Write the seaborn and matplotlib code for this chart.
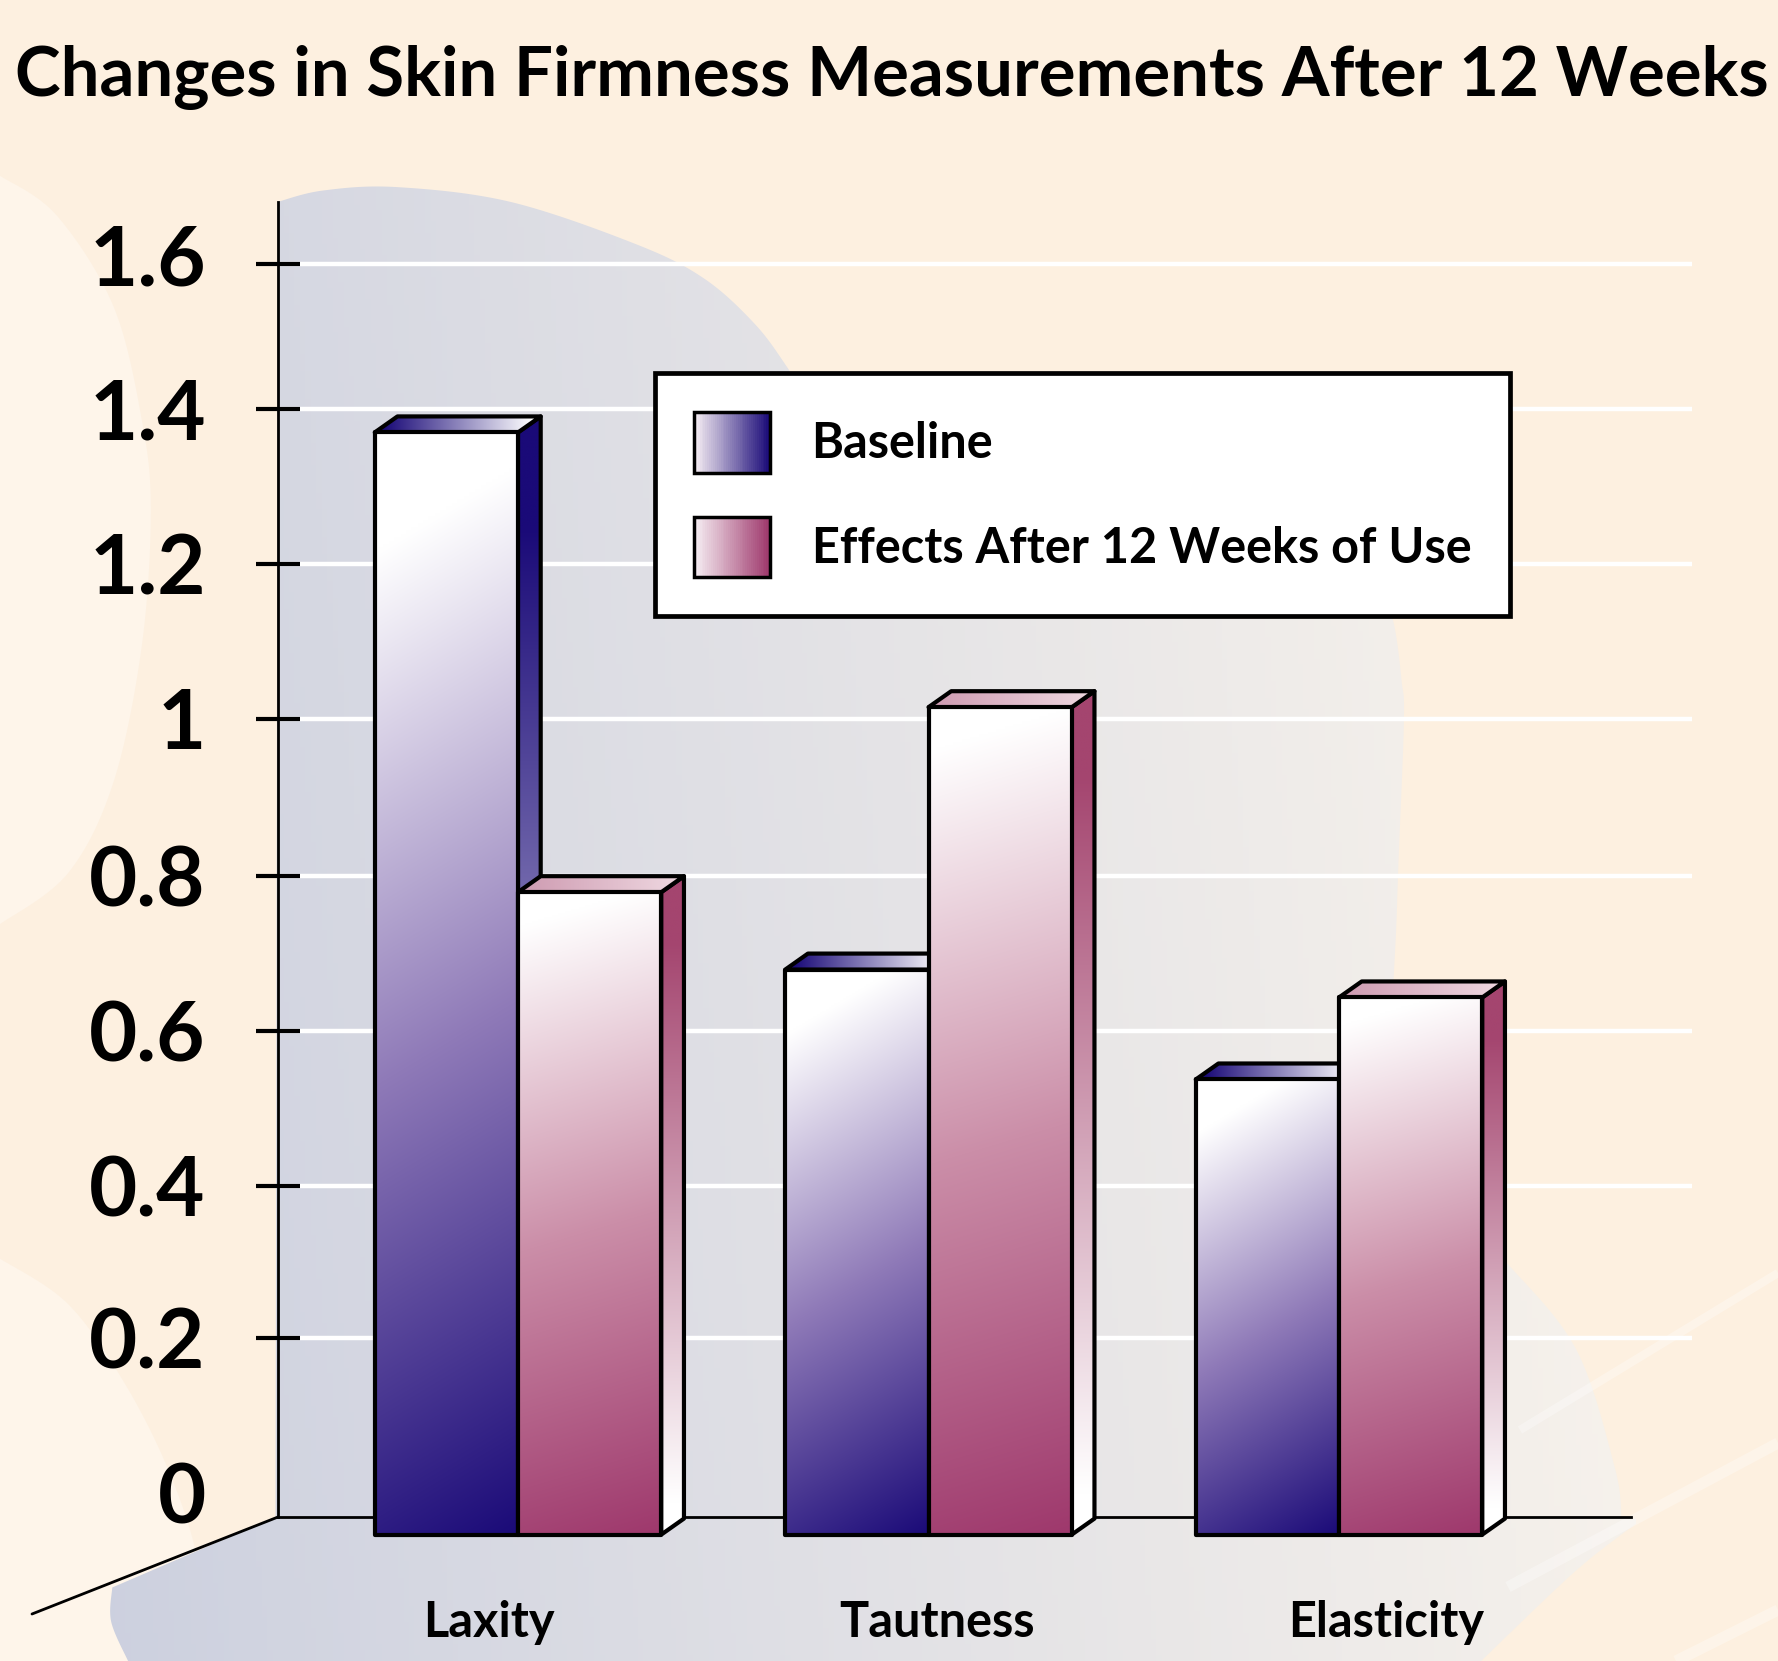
import numpy as np
import pandas as pd
import matplotlib
matplotlib.use('Agg')
import matplotlib.pyplot as plt
import seaborn as sns
from matplotlib.colors import to_rgb
from matplotlib.legend_handler import HandlerBase
from matplotlib.patches import Patch, Polygon, Rectangle
from matplotlib.transforms import ScaledTranslation

categories = ['Laxity', 'Tautness', 'Elasticity']
baseline_values = [1.37, 0.676, 0.534]
effects_values = [0.776, 1.015, 0.64]
series_names = ['Baseline', 'Effects After 12 Weeks of Use']
y_ticks = [0, 0.2, 0.396, 0.596, 0.797, 1.0, 1.2, 1.4, 1.587]
y_tick_labels = ['0', '0.2', '0.4', '0.6', '0.8', '1', '1.2', '1.4', '1.6']
title_text = 'Changes in Skin Firmness Measurements After 12 Weeks'

W, H = 1778, 1661
NAVY = '#1a0a78'
NAVY_MID = '#8f7ab8'
BERRY = '#9e386c'
BERRY_SIDE = '#a4456f'
BERRY_MID = '#cb8ea8'
CREAM = '#fdf0e0'
PALE = '#fef5ea'

# pixel layout of the plot area
AX_LEFT, AX_RIGHT, AX_TOP, AX_BOTTOM = 278, 1692, 202, 1517
X0_PX, X_SCALE = 518, 410.5
Y0_PX, Y_SCALE = 1492.8, 774.0
FRONT_BASE = -0.054
DX, DY = 22.7 / X_SCALE, 16.0 / Y_SCALE
SHRUNK = W / 1568


def ramp(t, c0, c1, mid=None):
    t = np.clip(t, 0, 1)[..., None]
    c0, c1 = np.array(to_rgb(c0)), np.array(to_rgb(c1))
    if mid is None:
        return c0 * (1 - t) + c1 * t
    m = np.array(to_rgb(mid))
    low = c0 * (1 - 2 * t) + m * 2 * t
    high = m * (2 - 2 * t) + c1 * (2 * t - 1)
    return np.where(t < 0.5, low, high)


def smooth(points, n=24):
    # Catmull-Rom through the outline points
    p = np.array(points, dtype=float)
    p = np.vstack([p[0], p, p[-1]])
    out = []
    for i in range(1, len(p) - 2):
        s = np.linspace(0, 1, n, endpoint=False)[:, None]
        out.append(0.5 * (2 * p[i] + (p[i + 1] - p[i - 1]) * s
                          + (2 * p[i - 1] - 5 * p[i] + 4 * p[i + 1] - p[i + 2]) * s ** 2
                          + (3 * p[i] - p[i - 1] - 3 * p[i + 1] + p[i + 2]) * s ** 3))
    out.append(p[-1:])
    return np.vstack(out)


def paint_face(ax, pts, t_func, c0, c1, zorder, mid=None):
    # gradient image clipped to a polygon given in data coordinates
    pts = np.array(pts)
    x0, x1 = pts[:, 0].min(), pts[:, 0].max()
    y0, y1 = pts[:, 1].min(), pts[:, 1].max()
    u, v = np.meshgrid(np.linspace(0, 1, 160), np.linspace(0, 1, 320))
    w_px, h_px = (x1 - x0) * X_SCALE, (y1 - y0) * Y_SCALE
    rgb = ramp(t_func(u, v, w_px, h_px), c0, c1, mid)
    im = ax.imshow(rgb, extent=(x0, x1, y0, y1), origin='upper', aspect='auto',
                   interpolation='bilinear', zorder=zorder)
    clip = Polygon(pts, closed=True, transform=ax.transData)
    im.set_clip_path(clip)
    im.set_clip_box(ax.figure.bbox)
    edge = Polygon(pts, closed=True, fill=False, edgecolor='black', linewidth=3,
                   joinstyle='round', zorder=zorder + 0.1, clip_on=False)
    ax.add_patch(edge)


def diagonal_t(slope, plateau):
    def t_func(u, v, w_px, h_px):
        s = (v * h_px + slope * u * w_px) / (h_px + slope * w_px)
        return (s - plateau) / (1 - plateau)
    return t_func


def side_t(u, v, w_px, h_px):
    return (v - 0.1) / 0.85


def top_t(u, v, w_px, h_px):
    return (u - 0.05) / 0.9


class GradientHandler(HandlerBase):
    def create_artists(self, legend, orig_handle, xdescent, ydescent, width, height, fontsize, trans):
        c1 = orig_handle.get_facecolor()
        artists = []
        n = 40
        for i in range(n):
            col = ramp(np.array(i / (n - 1)), '#f6eef3', c1)
            artists.append(Rectangle((-xdescent + width * i / n, -ydescent), width / n * 1.1, height,
                                     facecolor=col, edgecolor='none', transform=trans))
        artists.append(Rectangle((-xdescent, -ydescent), width, height, fill=False,
                                 edgecolor='black', linewidth=2.5, transform=trans))
        return artists


sns.set_theme(style='white')
plt.rcParams['font.family'] = ['Lato', 'DejaVu Sans']

df = pd.DataFrame({
    'category': categories * 2,
    'series': [series_names[0]] * 3 + [series_names[1]] * 3,
    'value': baseline_values + effects_values,
})

fig = plt.figure(figsize=(W / 100, H / 100), dpi=100, facecolor=CREAM)

# background shapes, in reference pixels
bg = fig.add_axes([0, 0, 1, 1], zorder=0)
bg.set_xlim(0, W)
bg.set_ylim(H, 0)
bg.axis('off')

pale_top = smooth([(0, 155), (50, 190), (100, 270), (125, 370), (133, 450), (125, 570),
                   (100, 690), (60, 770), (0, 815)]) * SHRUNK
pale_low = smooth([(0, 1110), (60, 1150), (110, 1220), (150, 1300), (175, 1380), (180, 1465)]) * SHRUNK
pale_low = np.vstack([pale_low, [0, H]])
bg.add_patch(Polygon(pale_top, closed=True, facecolor=PALE, edgecolor='none'))
bg.add_patch(Polygon(pale_low, closed=True, facecolor=PALE, edgecolor='none'))

blob_edge = np.vstack([
    smooth([(245, 178), (285, 168), (350, 165), (450, 178), (560, 215), (620, 245), (665, 285), (695, 325),
            (730, 380), (900, 440), (1100, 450), (1210, 500), (1228, 545), (1236, 600), (1238, 640), (1232, 800),
            (1228, 1000), (1275, 1060), (1329, 1114), (1390, 1190), (1424, 1294), (1430, 1338)]),
    smooth([(1448, 1340), (1390, 1385), (1306, 1465)]),
    smooth([(113, 1465), (98, 1430), (99, 1400)]),
    [(243, 1338)],
]) * SHRUNK
u, v = np.meshgrid(np.linspace(0, 1, 300), np.linspace(0, 1, 300))
blob_t = u * 1.0 + (1 - v) * 0.12 - 0.05
blob_img = ramp(blob_t, '#ccd0df', '#f8f3ec')
im = bg.imshow(blob_img, extent=(0, W * 0.92, H, 0), aspect='auto', zorder=1)
im.set_clip_path(Polygon(blob_edge, closed=True, transform=bg.transData))
bg.set_xlim(0, W)
bg.set_ylim(H, 0)

streaks = [((1778, 1273), (1520, 1430), 6), ((1778, 1443), (1508, 1587), 8), ((1778, 1610), (1676, 1661), 8)]
for (xa, ya), (xb, yb), lw in streaks:
    bg.plot([xa, xb], [ya, yb], color='white', alpha=0.3, lw=lw, solid_capstyle='butt', zorder=2)

# main axes
ax = fig.add_axes([AX_LEFT / W, 1 - AX_BOTTOM / H, (AX_RIGHT - AX_LEFT) / W, (AX_BOTTOM - AX_TOP) / H], zorder=1)
ax.patch.set_alpha(0)

sns.barplot(data=df, x='category', y='value', hue='series', order=categories, hue_order=series_names,
            width=0.698, errorbar=None, legend=False, ax=ax, fill=False,
            edgecolor='black', linewidth=2.5)

xlim = ((AX_LEFT - X0_PX) / X_SCALE, (AX_RIGHT - X0_PX) / X_SCALE)
ylim = ((Y0_PX - AX_BOTTOM) / Y_SCALE, (Y0_PX - AX_TOP) / Y_SCALE)

styles = [
    (diagonal_t(0.6, 0.10), NAVY, NAVY, NAVY_MID, NAVY, 'white', 3),
    (diagonal_t(0.30, 0.05), BERRY, BERRY_SIDE, BERRY_MID, '#cf9db3', '#eed6df', 5),
]
for container, (front_t, color, side_color, mid, top0, top1, z) in zip(ax.containers, styles):
    for i, bar in enumerate(container.patches):
        top = bar.get_height()
        bar.set_y(FRONT_BASE)
        bar.set_height(top - FRONT_BASE)
        bar.set_clip_on(False)
        bar.set_visible(False)
        x0 = bar.get_x()
        x1 = x0 + bar.get_width()
        zz = z + i * 0.01
        paint_face(ax, [(x1, FRONT_BASE), (x1 + DX, FRONT_BASE + DY), (x1 + DX, top + DY), (x1, top)],
                   side_t, side_color, 'white', zz)
        paint_face(ax, [(x0, top), (x1, top), (x1 + DX, top + DY), (x0 + DX, top + DY)],
                   top_t, top0, top1, zz + 0.2)
        paint_face(ax, [(x0, FRONT_BASE), (x1, FRONT_BASE), (x1, top), (x0, top)],
                   front_t, 'white', color, zz + 0.4, mid)

# receding floor line
ax.plot([xlim[0], (32 - X0_PX) / X_SCALE], [ylim[0], (Y0_PX - 1614) / Y_SCALE],
        color='black', lw=2, clip_on=False, zorder=2)

ax.set_xlim(*xlim)
ax.set_ylim(*ylim)

sns.despine(ax=ax)
ax.spines['left'].set_linewidth(2)
ax.spines['left'].set_color('black')
ax.spines['bottom'].set_linewidth(2)
ax.spines['bottom'].set_color('black')
ax.spines['bottom'].set_bounds(xlim[0], (1631 - X0_PX) / X_SCALE)

ax.set_yticks(y_ticks, y_tick_labels)
ax.set_xticks([-0.07, 1.02, 2.115], categories)
ax.set_xlabel('')
ax.set_ylabel('')
ax.tick_params(axis='y', direction='inout', length=32, width=3, color='black', left=True,
               pad=36, labelsize=60, labelcolor='black')
ax.tick_params(axis='x', length=0, pad=60, labelsize=35, labelcolor='black')
ax.grid(axis='y', color='white', linewidth=3.2, zorder=1)
ax.set_axisbelow(True)
for label in ax.get_xticklabels() + ax.get_yticklabels():
    label.set_fontweight('bold')

# no tick or grid line at zero
ax.yaxis.get_major_ticks()[0].tick1line.set_visible(False)
ax.yaxis.get_major_ticks()[0].gridline.set_visible(False)
top_label = ax.yaxis.get_major_ticks()[-1].label1
top_label.set_transform(top_label.get_transform() + ScaledTranslation(0, 7 / 72, fig.dpi_scale_trans))

handles = [Patch(facecolor=NAVY, label=series_names[0]), Patch(facecolor=BERRY, label=series_names[1])]
legend = ax.legend(handles=handles, handler_map={Patch: GradientHandler()},
                   loc='upper left', bbox_to_anchor=((655 - AX_LEFT) / (AX_RIGHT - AX_LEFT),
                                                     (AX_BOTTOM - 373) / (AX_BOTTOM - AX_TOP)),
                   borderaxespad=0, fontsize=35, handlelength=1.57, handleheight=1.55,
                   handletextpad=0.85, labelspacing=0.9, borderpad=0.8,
                   fancybox=False, framealpha=1, facecolor='white', edgecolor='black')
legend.get_frame().set_linewidth(3.4)
legend.set_zorder(10)
for text in legend.get_texts():
    text.set_fontweight('bold')
    text.set_color('black')

fig.text(892 / W, 1 - 96 / H, title_text, ha='center', va='baseline', fontsize=49.6,
         fontweight='bold', color='black')

fig.savefig('out.png', dpi=100, facecolor=CREAM)
